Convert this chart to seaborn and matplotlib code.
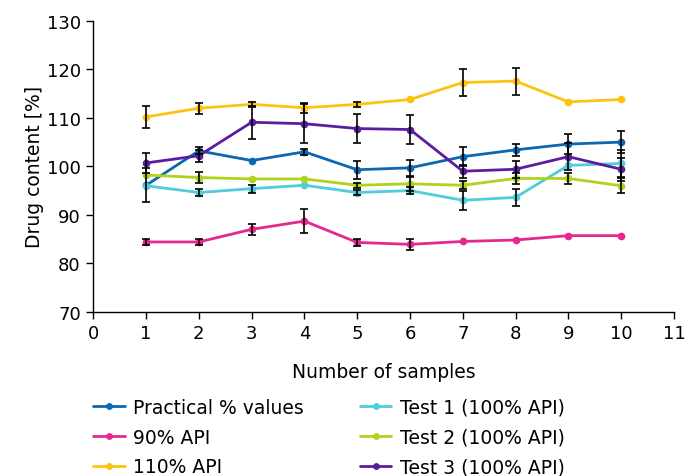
import numpy as np
import pandas as pd
import matplotlib
matplotlib.use("Agg")
import matplotlib.pyplot as plt
import seaborn as sns

# data
samples = [1, 2, 3, 4, 5, 6, 7, 8, 9, 10]
series_names = ["Practical % values", "90% API", "110% API",
                "Test 1 (100% API)", "Test 2 (100% API)", "Test 3 (100% API)"]

practical = [96.1, 103.2, 101.2, 103.0, 99.3, 99.7, 102.0, 103.4, 104.6, 105.0]
api_90 = [84.4, 84.4, 87.0, 88.7, 84.3, 83.9, 84.5, 84.8, 85.7, 85.7]
api_110 = [110.2, 112.0, 112.8, 112.1, 112.8, 113.8, 117.3, 117.6, 113.3, 113.8]
test1 = [96.0, 94.6, 95.4, 96.1, 94.6, 95.0, 93.0, 93.6, 100.2, 100.6]
test2 = [98.2, 97.7, 97.4, 97.4, 96.1, 96.4, 96.1, 97.5, 97.5, 96.0]
test3 = [100.7, 102.2, 109.1, 108.8, 107.8, 107.6, 99.0, 99.4, 102.0, 99.4]

# 0 = no visible error bar
practical_err = [3.5, 0.7, 0.0, 0.6, 1.9, 1.6, 2.0, 1.3, 2.0, 2.3]
api_90_err = [0.7, 0.6, 1.2, 2.5, 0.8, 1.1, 0.0, 0.0, 0.0, 0.0]
api_110_err = [2.2, 1.1, 0.5, 1.0, 0.5, 0.0, 2.7, 2.8, 0.0, 0.0]
test1_err = [0.0, 0.8, 0.8, 0.0, 0.6, 0.8, 2.0, 1.7, 0.0, 2.8]
test2_err = [0.0, 1.2, 0.0, 0.0, 0.5, 1.5, 0.8, 1.2, 1.2, 1.5]
test3_err = [2.0, 1.2, 3.4, 4.0, 3.0, 2.9, 1.3, 1.8, 2.8, 2.4]

colors = ["#0b67b2", "#e5288f", "#fdc30f", "#4fcdd8", "#afd31a", "#5a1d9e"]

values = [practical, api_90, api_110, test1, test2, test3]
errors = [practical_err, api_90_err, api_110_err, test1_err, test2_err, test3_err]

rows = []
for name, vals in zip(series_names, values):
    for s, v in zip(samples, vals):
        rows.append({"sample": s, "content": v, "series": name})
df = pd.DataFrame(rows)

sns.set_style("ticks")
plt.rcParams["font.family"] = ["DejaVu Sans"]
plt.rcParams["text.color"] = "black"
plt.rcParams["axes.labelcolor"] = "black"

fig = plt.figure(figsize=(6.87, 4.77), dpi=100)
ax = fig.add_axes([0.1358, 0.3444, 0.8452, 0.6095])

# lines first, error bars on top
draw_order = [3, 4, 1, 2, 0, 5]
for i in draw_order:
    sub = df[df["series"] == series_names[i]]
    sns.lineplot(data=sub, x="sample", y="content", color=colors[i],
                 marker="o", markersize=5.5, markeredgewidth=0, linewidth=2.0,
                 ax=ax, label=series_names[i], zorder=2 + i * 0.1)

for i in draw_order:
    xs = [s for s, e in zip(samples, errors[i]) if e > 0]
    ys = [v for v, e in zip(values[i], errors[i]) if e > 0]
    es = [e for e in errors[i] if e > 0]
    ax.errorbar(xs, ys, yerr=es, fmt="none", ecolor="black",
                elinewidth=1.2, capsize=3.0, capthick=1.2, zorder=5)

ax.set_xlim(0, 11)
ax.set_ylim(70, 130)
ax.set_xticks(range(0, 12))
ax.set_yticks(range(70, 131, 10))
ax.tick_params(axis="both", labelsize=13, direction="out", length=5, width=1,
               colors="black", pad=4)
ax.set_xlabel("Number of samples", fontsize=13.5, labelpad=14)
ax.set_ylabel("Drug content [%]", fontsize=13.5, labelpad=2)
sns.despine(ax=ax)
for sp in ["left", "bottom"]:
    ax.spines[sp].set_linewidth(1)
    ax.spines[sp].set_color("black")

handles, labels = ax.get_legend_handles_labels()
ax.get_legend().remove()
order = [labels.index(n) for n in series_names]
fig.legend([handles[k] for k in order], [labels[k] for k in order],
           ncol=2, loc="upper left", bbox_to_anchor=(0.125, 0.180),
           borderaxespad=0, frameon=False, fontsize=13.5, handlelength=1.67,
           handletextpad=0.45, columnspacing=3.0, labelspacing=0.58,
           markerscale=0.9)

fig.savefig("out.png", dpi=100)
